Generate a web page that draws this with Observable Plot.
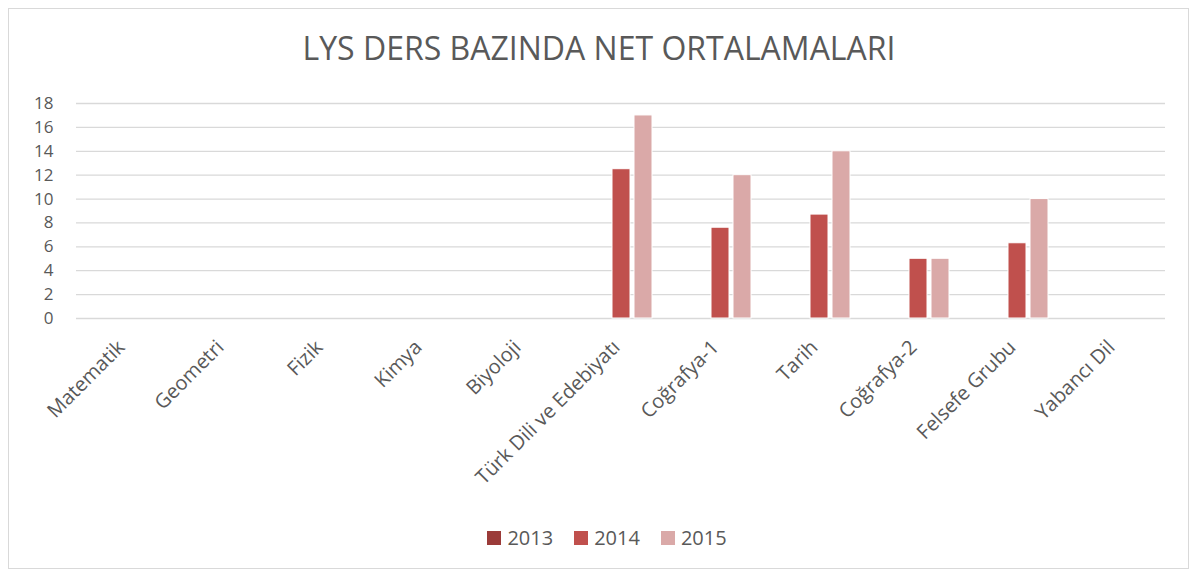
<!DOCTYPE html>
<html>
<head>
<meta charset="utf-8">
<script src="https://cdn.jsdelivr.net/npm/d3@7"></script>
<script src="https://cdn.jsdelivr.net/npm/@observablehq/plot@0.6"></script>
<style>
  body { margin: 0; background: #fff; }
  #wrap { position: relative; width: 1198px; height: 579px; font-family: 'Open Sans', sans-serif; color: #595959; }
  #border { position: absolute; left: 8px; top: 8px; width: 1181px; height: 561px; border: 1px solid #d9d9d9; box-sizing: border-box; }
  #title { position: absolute; left: 0; top: 26px; width: 1198px; text-align: center; font-size: 32px; line-height: normal; color: #595959; }
  #chart { position: absolute; left: 0; top: 0; width: 1198px; height: 520px; }
  #chart svg { overflow: visible; }
  #legend { position: absolute; left: 8px; top: 524px; width: 1198px; display: flex; justify-content: center; gap: 21px; font-size: 20px; }
  .item { display: flex; align-items: center; gap: 6px; }
  .sw { width: 14px; height: 14px; display: inline-block; }
</style>
</head>
<body>
<div id="wrap">
  <div id="border"></div>
  <div id="title">LYS DERS BAZINDA NET ORTALAMALARI</div>
  <div id="legend"></div>
  <div id="chart"></div>
</div>
<script>
const categories = ["Matematik", "Geometri", "Fizik", "Kimya", "Biyoloji", "Türk Dili ve Edebiyatı", "Coğrafya-1", "Tarih", "Coğrafya-2", "Felsefe Grubu", "Yabancı Dil"];
const years = ["2013", "2014", "2015"];
const values2013 = [null, null, null, null, null, null, null, null, null, null, null];
const values2014 = [null, null, null, null, null, 12.5, 7.6, 8.7, 5.0, 6.3, null];
const values2015 = [null, null, null, null, null, 17.0, 12.0, 14.0, 5.0, 10.0, null];
const yTicks = [0, 2, 4, 6, 8, 10, 12, 14, 16, 18];
const colors = ["#9B3B39", "#C0504D", "#DAA9A8"];

const series = [values2013, values2014, values2015];
const data = [];
categories.forEach((c, i) => years.forEach((y, j) => {
  const v = series[j][i];
  if (v != null) data.push({cat: c, year: y, value: v});
}));

const chart = Plot.plot({
  width: 1198,
  height: 520,
  marginTop: 103,
  marginBottom: 202,
  marginLeft: 71,
  marginRight: 29,
  style: {fontFamily: "'Open Sans', sans-serif", fontSize: "17px", color: "#595959", background: "transparent", overflow: "visible"},
  fx: {domain: categories, padding: 0, axis: null},
  x: {domain: years, paddingInner: 0.2, paddingOuter: 0.82, axis: null},
  y: {domain: [0, 18], axis: null},
  color: {domain: years, range: colors},
  marks: [
    Plot.ruleY(yTicks, {stroke: "#d9d9d9", strokeWidth: 1.3}),
    Plot.axisY(yTicks, {tickSize: 0, tickPadding: 0, dx: -23, label: null, fontSize: 17, fill: "#595959", textAnchor: "end"}),
    Plot.barY(data, {fx: "cat", x: "year", y: "value", fill: "year", stroke: "white", strokeWidth: 1}),
    Plot.text(categories, {fx: d => d, text: d => d, frameAnchor: "bottom", rotate: -45, textAnchor: "end", dy: 30, dx: 0, fontSize: 20, fill: "#595959"})
  ]
});
document.getElementById("chart").appendChild(chart);

const legend = document.getElementById("legend");
years.forEach((y, i) => {
  const it = document.createElement("div");
  it.className = "item";
  it.innerHTML = `<span class="sw" style="background:${colors[i]}"></span><span>${y}</span>`;
  legend.appendChild(it);
});
</script>
</body>
</html>
